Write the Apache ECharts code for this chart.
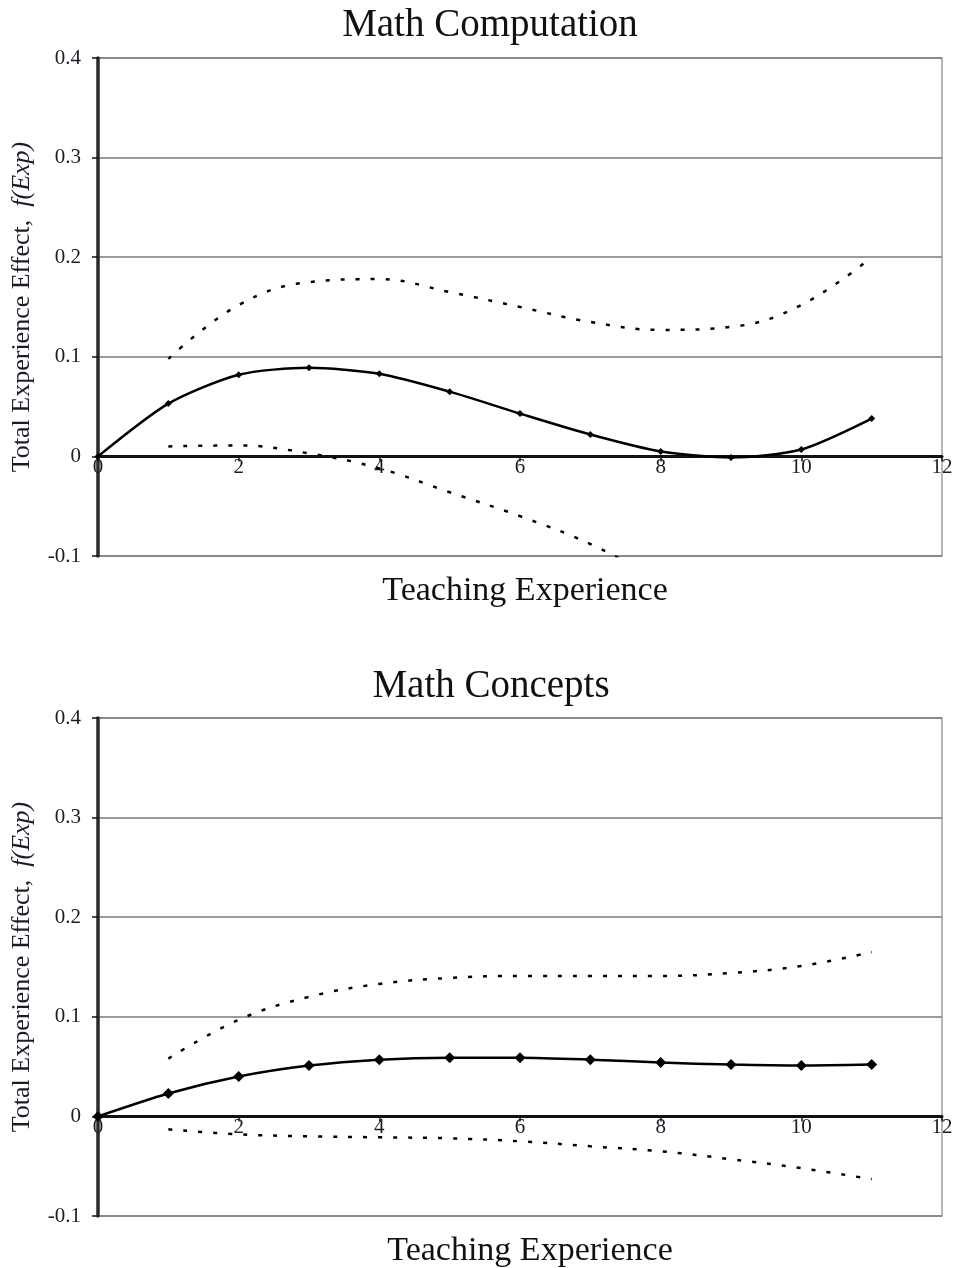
<!DOCTYPE html>
<html>
<head>
<meta charset="utf-8">
<script src="https://cdn.jsdelivr.net/npm/echarts@6/dist/echarts.min.js"></script>
<style>
html,body{margin:0;padding:0;background:#fff;}
#c{width:955px;height:1268px;}
</style>
</head>
<body>
<div id="c"></div>
<script>
// ---- data ----
const titles = ["Math Computation", "Math Concepts"];
const xLabel = "Teaching Experience";
const yLabelMain = "Total Experience Effect,  ";
const yLabelItalic = "f(Exp)";
const xTicks = [0, 2, 4, 6, 8, 10, 12];
const yTicks = [-0.1, 0, 0.1, 0.2, 0.3, 0.4];

const expSolid = [0, 1, 2, 3, 4, 5, 6, 7, 8, 9, 10, 11];
const expBand = [1, 2, 3, 4, 5, 6, 7, 8, 9, 10, 11];

// Math Computation
const compEffect = [0, 0.053, 0.082, 0.089, 0.083, 0.065, 0.043, 0.022, 0.005, -0.001, 0.007, 0.038];
const compUpper = [0.098, 0.152, 0.175, 0.178, 0.165, 0.150, 0.135, 0.127, 0.130, 0.152, 0.200];
const compLowerX = [1, 2, 3, 4, 5, 6, 7, 8];
const compLower = [0.010, 0.011, 0.003, -0.012, -0.036, -0.060, -0.088, -0.125];

// Math Concepts
const concEffect = [0, 0.023, 0.040, 0.051, 0.057, 0.059, 0.059, 0.057, 0.054, 0.052, 0.051, 0.052];
const concUpper = [0.058, 0.097, 0.120, 0.133, 0.139, 0.141, 0.141, 0.141, 0.144, 0.151, 0.165];
const concLower = [-0.013, -0.018, -0.020, -0.021, -0.022, -0.025, -0.030, -0.035, -0.043, -0.052, -0.063];

// ---- build ----
const FONT = "Liberation Serif";
const TXT = "#1c1c28";
const pairs = (xs, ys) => xs.map((x, i) => [x, ys[i]]);

const GH = 498;
const grids = [
  {left: 98, top: 58, width: 844, height: GH},
  {left: 98, top: 718, width: 844, height: GH}
];
// x axis sits at y = 0
const zeroOffset = -GH * (0 - yTicks[0]) / (yTicks[yTicks.length - 1] - yTicks[0]);

function xAxisFor(i) {
  return {
    gridIndex: i, type: 'value', min: 0, max: 12, interval: 2,
    position: 'bottom', offset: zeroOffset,
    axisLine: {onZero: false, lineStyle: {color: '#111', width: 3}},
    axisTick: {show: true, length: 5, lineStyle: {color: '#111', width: 1.5}},
    axisLabel: {margin: 1, fontFamily: FONT, fontSize: 21, color: TXT,
      formatter: v => xTicks.indexOf(v) >= 0 ? String(v) : ''},
    splitLine: {show: false}
  };
}
function yAxisFor(i) {
  return {
    gridIndex: i, type: 'value', min: -0.1, max: 0.4, interval: 0.1,
    axisLine: {show: true, onZero: false, lineStyle: {color: '#2a2a2a', width: 3.5}},
    axisTick: {show: true, length: 6, lineStyle: {color: '#111', width: 1.5}},
    axisLabel: {margin: 17, fontFamily: FONT, fontSize: 21, color: TXT,
      formatter: v => {
        const t = yTicks.find(y => Math.abs(y - v) < 1e-9);
        return t === undefined ? '' : (t === 0 ? '0' : String(t));
      }},
    splitLine: {show: true, lineStyle: {color: '#7a7a7a', width: 1.5}},
    name: '{n|' + yLabelMain + '}{i|' + yLabelItalic + '}',
    nameLocation: 'middle', nameRotate: 90, nameGap: 63,
    nameTextStyle: {
      rich: {
        n: {fontFamily: FONT, fontSize: 26, color: TXT},
        i: {fontFamily: FONT, fontSize: 26, fontStyle: 'italic', color: TXT}
      }
    }
  };
}

const dash = [4, 11];
function solid(i, xs, ys, size) {
  return {type: 'line', xAxisIndex: i, yAxisIndex: i, data: pairs(xs, ys),
    smooth: 0.25, symbol: 'diamond', symbolSize: size, showSymbol: true,
    itemStyle: {color: '#000'}, lineStyle: {color: '#000', width: 2.5}, z: 5, silent: true};
}
function band(i, xs, ys) {
  return {type: 'line', xAxisIndex: i, yAxisIndex: i, data: pairs(xs, ys),
    smooth: 0.4, symbol: 'none', clip: true,
    lineStyle: {color: '#000', width: 2.5, type: dash}, z: 4, silent: true};
}

const titleStyle = {fontFamily: FONT, fontSize: 39, fontWeight: 'normal', color: '#111'};
const xNameStyle = {fontFamily: FONT, fontSize: 34, fontWeight: 'normal', color: '#111'};

const option = {
  animation: false,
  backgroundColor: '#fff',
  title: [
    {text: titles[0], left: 485, top: 1, textAlign: 'center', textStyle: titleStyle},
    {text: xLabel, left: 520, top: 569, textAlign: 'center', textStyle: xNameStyle},
    {text: titles[1], left: 486, top: 662, textAlign: 'center', textStyle: titleStyle},
    {text: xLabel, left: 525, top: 1229, textAlign: 'center', textStyle: xNameStyle}
  ],
  grid: grids.map(g => Object.assign({show: true, borderColor: '#a0a0a0', borderWidth: 1.5,
    backgroundColor: 'transparent', containLabel: false, outerBoundsMode: 'none'}, g)),
  xAxis: [xAxisFor(0), xAxisFor(1)],
  yAxis: [yAxisFor(0), yAxisFor(1)],
  series: [
    solid(0, expSolid, compEffect, 7),
    band(0, expBand, compUpper),
    band(0, compLowerX, compLower),
    solid(1, expSolid, concEffect, 11),
    band(1, expBand, concUpper),
    band(1, expBand, concLower)
  ]
};

const chart = echarts.init(document.getElementById('c'), null, {renderer: 'canvas'});
chart.setOption(option);
</script>
</body>
</html>
